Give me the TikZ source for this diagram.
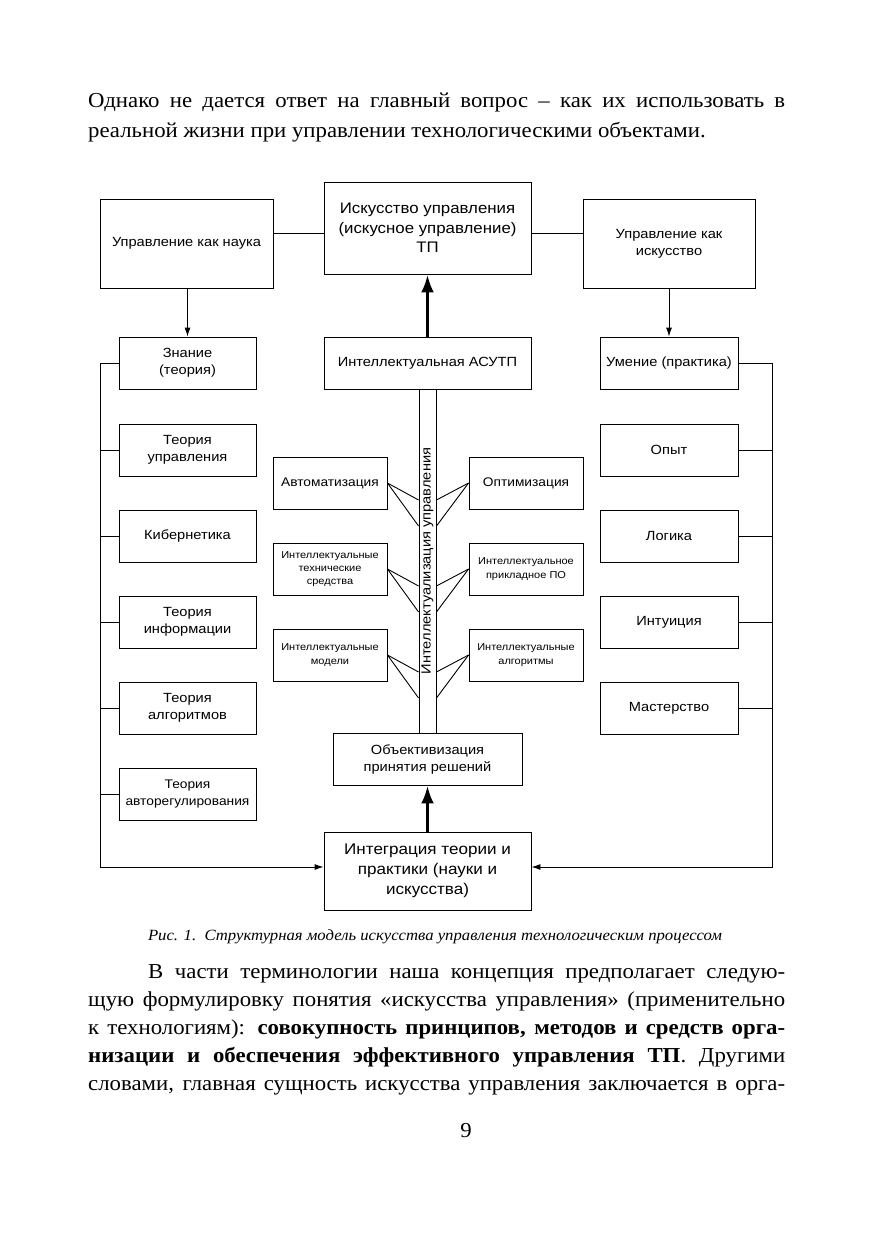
\documentclass[tikz,border=0pt]{standalone}
\usepackage{fontspec}
\setmainfont{Liberation Serif}[FakeStretch=1.07]
\setsansfont{Liberation Sans}[FakeStretch=1.1]
\usetikzlibrary{arrows.meta}
\tikzset{
bx/.style={draw,line width=0.9pt,align=center,inner sep=1pt,font=\sffamily\fontsize{13.3}{17}\selectfont},
lbox/.style={bx,minimum width=137pt,minimum height=52pt},
mbox/.style={bx,minimum width=114pt,minimum height=52pt,font=\sffamily\fontsize{12.5}{17}\selectfont},
sm/.style={font=\sffamily\fontsize{10}{13.3}\selectfont},
ln/.style={line width=0.9pt},
arr/.style={ln,-{Latex[length=9pt,width=6pt]}},
bigarr/.style={line width=3.5pt,-{Latex[length=18pt,width=13pt]}},
txt/.style={anchor=base west,inner sep=0pt,font=\fontsize{21.3}{24}\selectfont}
}
\begin{document}
\begin{tikzpicture}[x=1pt,y=-1pt]
\useasboundingbox[fill=white](0,0)rectangle(876,1240);
% text above
\node[txt](p1) at (88,107){\makebox[697pt][s]{Однако не дается ответ на главный вопрос – как их использовать в}};
\node[txt](p2) at (88,137){реальной жизни при управлении технологическими объектами.};
% top row
\node[bx,minimum width=173pt,minimum height=89pt](nauka) at (186.5,243.5){Управление как наука};
\node[bx,minimum width=207pt,minimum height=92pt,font=\sffamily\fontsize{15.3}{19.5}\selectfont](iskus) at (427.5,228){Искусство управления\\(искусное управление)\\ТП};
\node[bx,minimum width=172pt,minimum height=89pt](upisk) at (669,243.5){Управление как\\искусство};
\draw[ln]([yshift=10.5pt]nauka.east)--([yshift=10.5pt]nauka.east-|iskus.west);
\draw[ln]([yshift=10.5pt]upisk.west)--([yshift=10.5pt]upisk.west-|iskus.east);
% second row
\node[lbox](znan) at (187.5,363){Знание\\(теория)};
\node[bx,minimum width=207pt,minimum height=52pt](asutp) at (427.5,363){Интеллектуальная АСУТП};
\node[lbox,minimum width=138pt](umen) at (669,363){Умение (практика)};
\draw[arr](nauka.south-|znan.north)--(znan.north);
\draw[arr](upisk.south)--(umen.north);
\draw[bigarr](asutp.north)--(iskus.south);
% left column
\node[lbox](tupr) at (187.5,450){Теория\\управления};
\node[lbox](kib) at (187.5,536){Кибернетика};
\node[lbox](tinf) at (187.5,622){Теория\\информации};
\node[lbox](talg) at (187.5,708){Теория\\алгоритмов};
\node[lbox,font=\sffamily\fontsize{12.5}{17}\selectfont](tavt) at (187.5,794){Теория\\авторегулирования};
% right column
\node[lbox,minimum width=138pt](opyt) at (669,450){Опыт};
\node[lbox,minimum width=138pt](logic) at (669,536){Логика};
\node[lbox,minimum width=138pt](intu) at (669,622){Интуиция};
\node[lbox,minimum width=138pt](mast) at (669,708){Мастерство};
% strip
\node[draw,ln,minimum width=17pt,minimum height=344pt,inner sep=0pt,font=\sffamily\fontsize{13.3}{16}\selectfont](strip) at (427.5,561){\rotatebox{90}{Интеллектуализация управления}};
\node[mbox](avt) at (330,483){Автоматизация};
\node[mbox,sm](itsr) at (330,569){Интеллектуальные\\технические\\средства};
\node[mbox,sm](imod) at (330,655){Интеллектуальные\\модели};
\node[mbox](opt) at (526,483){Оптимизация};
\node[mbox,sm](ippo) at (526,569){Интеллектуальное\\прикладное ПО};
\node[mbox,sm](ialg) at (526,655){Интеллектуальные\\алгоритмы};
\foreach \n in {avt,itsr,imod}{
\draw[ln](\n.east)--([yshift=-17pt]\n.east-|strip.west);
\draw[ln](\n.east)--([yshift=-43pt]\n.east-|strip.west);}
\foreach \n in {opt,ippo,ialg}{
\draw[ln](\n.west)--([yshift=-17pt]\n.west-|strip.east);
\draw[ln](\n.west)--([yshift=-43pt]\n.west-|strip.east);}
% bottom
\node[bx,minimum width=189pt,minimum height=52pt](obj) at (427.5,759){Объективизация\\принятия решений};
\node[bx,minimum width=207pt,minimum height=78pt,font=\sffamily\fontsize{15.5}{20}\selectfont](integr) at (427.5,871){Интеграция теории и\\практики (науки и\\искусства)};
\draw[bigarr](integr.north)--(obj.south);
% buses
\coordinate(lbus) at (100,867);
\coordinate(rbus) at (772,867);
\draw[arr](znan.west)-|(lbus)--([yshift=4pt]integr.west);
\draw[arr](umen.east)-|(rbus)--([yshift=4pt]integr.east);
\foreach \n in {tupr,kib,tinf,talg,tavt}\draw[ln](\n.west)--(\n.west-|lbus);
\foreach \n in {opyt,logic,intu,mast}\draw[ln](\n.east)--(\n.east-|rbus);
% caption
\node[anchor=base,inner sep=0pt,font=\itshape\fontsize{15.6}{18}\selectfont](cap) at (435,940){Рис. 1.\ \ Структурная модель искусства управления технологическим процессом};
% text below
\node[txt](q1) at (148,978){\makebox[637pt][s]{В части терминологии наша концепция предполагает следую-}};
\node[txt](q2) at (88,1006){\makebox[697pt][s]{щую формулировку понятия «искусства управления» (применительно}};
\node[txt](q3) at (88,1034){\makebox[697pt][s]{к технологиям): \textbf{совокупность принципов, методов и средств орга-}}};
\node[txt](q4) at (88,1062){\makebox[697pt][s]{\textbf{низации и обеспечения эффективного управления ТП}. Другими}};
\node[txt](q5) at (88,1090){\makebox[697pt][s]{словами, главная сущность искусства управления заключается в орга-}};
\node[anchor=base,inner sep=0pt,font=\fontsize{21.3}{24}\selectfont](pg) at (466,1137){9};
\end{tikzpicture}
\end{document}
